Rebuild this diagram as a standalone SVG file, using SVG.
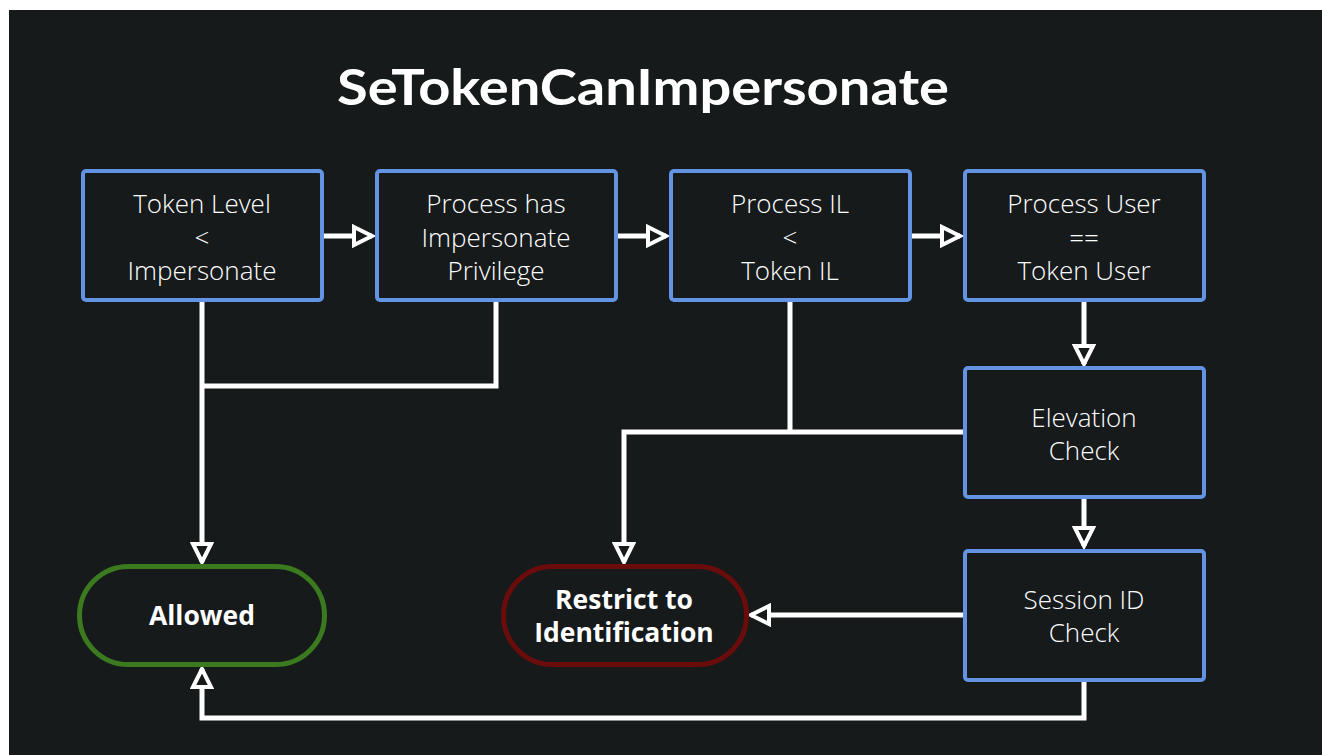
<svg xmlns="http://www.w3.org/2000/svg" width="1322" height="755" viewBox="0 0 1322 755">
<defs>
<style>
.box{fill:#161a1b;stroke:#6393e3;stroke-width:4}
.pill{fill:#161a1b;stroke-width:5}
.lbl{font-family:"Open Sans",Lato,sans-serif;font-size:26px;fill:#ffffff;text-anchor:middle;font-weight:300}
.bold{font-weight:700;font-size:26.5px}
.wire{fill:none;stroke:#ffffff;stroke-width:5;stroke-linejoin:miter}
</style>
<marker id="ah" markerUnits="userSpaceOnUse" markerWidth="24" markerHeight="24" refX="18" refY="9" orient="auto" viewBox="-3 -3 24 24">
<path d="M0,0 L18,9 L0,18 Z" fill="#161a1b" stroke="#ffffff" stroke-width="4" stroke-linejoin="miter"/>
</marker>
</defs>
<rect x="0" y="0" width="1322" height="755" fill="#ffffff"/>
<rect x="9" y="10" width="1313" height="745" fill="#161a1b"/>
<text x="643" y="105" font-family="Lato,'Open Sans',sans-serif" font-size="49" font-weight="700" fill="#ffffff" text-anchor="middle" textLength="612" lengthAdjust="spacingAndGlyphs">SeTokenCanImpersonate</text>
<g id="connectors">
<line class="wire" x1="322" y1="236" x2="372" y2="236" marker-end="url(#ah)"/>
<line class="wire" x1="616" y1="236" x2="666" y2="236" marker-end="url(#ah)"/>
<line class="wire" x1="910" y1="236" x2="960" y2="236" marker-end="url(#ah)"/>
<line class="wire" x1="1084" y1="300" x2="1084" y2="364" marker-end="url(#ah)"/>
<line class="wire" x1="1084" y1="497" x2="1084" y2="546" marker-end="url(#ah)"/>
<line class="wire" x1="202" y1="300" x2="202" y2="562" marker-end="url(#ah)"/>
<polyline class="wire" points="496,300 496,386 202,386"/>
<line class="wire" x1="790" y1="300" x2="790" y2="432"/>
<polyline class="wire" points="963,432 624,432 624,562" marker-end="url(#ah)"/>
<line class="wire" x1="963" y1="615" x2="751" y2="615" marker-end="url(#ah)"/>
<polyline class="wire" points="1084,681 1084,718 202,718 202,669" marker-end="url(#ah)"/>
</g>
<g id="n1">
<rect class="box" x="83" y="171" width="239" height="129" rx="3"/>
<text class="lbl" x="202" y="213">Token Level</text>
<text class="lbl" x="202" y="247">&lt;</text>
<text class="lbl" x="202" y="280">Impersonate</text>
</g>
<g id="n2">
<rect class="box" x="377" y="171" width="239" height="129" rx="3"/>
<text class="lbl" x="496" y="213">Process has</text>
<text class="lbl" x="496" y="247">Impersonate</text>
<text class="lbl" x="496" y="280">Privilege</text>
</g>
<g id="n3">
<rect class="box" x="671" y="171" width="239" height="129" rx="3"/>
<text class="lbl" x="790" y="213">Process IL</text>
<text class="lbl" x="790" y="247">&lt;</text>
<text class="lbl" x="790" y="280">Token IL</text>
</g>
<g id="n4">
<rect class="box" x="965" y="171" width="239" height="129" rx="3"/>
<text class="lbl" x="1084" y="213">Process User</text>
<text class="lbl" x="1084" y="247">==</text>
<text class="lbl" x="1084" y="280">Token User</text>
</g>
<g id="n5">
<rect class="box" x="965" y="368" width="239" height="129" rx="3"/>
<text class="lbl" x="1084" y="427">Elevation</text>
<text class="lbl" x="1084" y="460">Check</text>
</g>
<g id="n6">
<rect class="box" x="965" y="551" width="239" height="129" rx="3"/>
<text class="lbl" x="1084" y="609">Session ID</text>
<text class="lbl" x="1084" y="642">Check</text>
</g>
<g id="allowed">
<rect class="pill" x="79.5" y="566.5" width="245" height="98" rx="49" stroke="#3b7a1f"/>
<text class="lbl bold" x="202" y="625">Allowed</text>
</g>
<g id="restrict">
<rect class="pill" x="503.5" y="566.5" width="243" height="98" rx="49" stroke="#6b0c0c"/>
<text class="lbl bold" x="624" y="609">Restrict to</text>
<text class="lbl bold" x="624" y="642">Identification</text>
</g>
</svg>
